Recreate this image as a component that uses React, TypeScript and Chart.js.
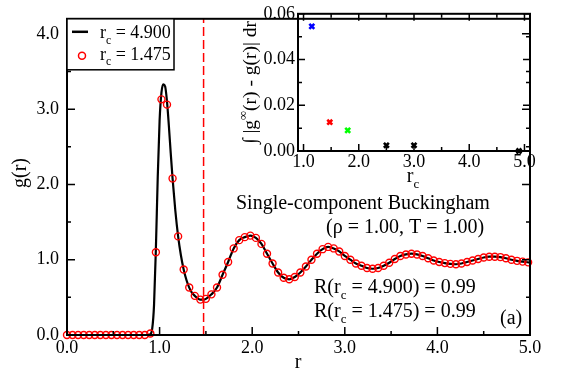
import React, { useEffect, useRef } from "react";
import { Chart, registerables } from "chart.js";

Chart.register(...registerables);

// ---------- data ----------
const circleR = [
  0.0, 0.06, 0.12, 0.18, 0.24, 0.3, 0.36, 0.42, 0.48, 0.54, 0.6, 0.66, 0.72, 0.78, 0.84,
  0.9, 0.96, 1.02, 1.08, 1.14, 1.2, 1.26, 1.32, 1.38, 1.44, 1.5, 1.56, 1.62, 1.68, 1.74,
  1.8, 1.86, 1.92, 1.98, 2.04, 2.1, 2.16, 2.22, 2.28, 2.34, 2.4, 2.46, 2.52, 2.58, 2.64,
  2.7, 2.76, 2.82, 2.88, 2.94, 3.0, 3.06, 3.12, 3.18, 3.24, 3.3, 3.36, 3.42, 3.48, 3.54,
  3.6, 3.66, 3.72, 3.78, 3.84, 3.9, 3.96, 4.02, 4.08, 4.14, 4.2, 4.26, 4.32, 4.38, 4.44,
  4.5, 4.56, 4.62, 4.68, 4.74, 4.8, 4.86, 4.92, 4.98,
];
const circleG = [
  0, 0, 0, 0, 0, 0, 0, 0, 0, 0, 0, 0, 0, 0, 0,
  0.02, 1.1, 3.13, 3.06, 2.08, 1.31, 0.87, 0.63, 0.52, 0.47, 0.48, 0.54, 0.63, 0.8, 0.97,
  1.15, 1.26, 1.3, 1.32, 1.29, 1.21, 1.08, 0.95, 0.83, 0.76, 0.74, 0.77, 0.83, 0.91, 1.0,
  1.08, 1.14, 1.17, 1.15, 1.11, 1.05, 1.0, 0.95, 0.92, 0.89, 0.88, 0.89, 0.92, 0.96, 1.01,
  1.05, 1.07, 1.08, 1.07, 1.05, 1.02, 0.99, 0.97, 0.955, 0.945, 0.94, 0.95, 0.97, 0.99, 1.01,
  1.03, 1.04, 1.04, 1.035, 1.02, 1.0, 0.985, 0.975, 0.965,
];
const lineR = [
  0.0, 0.84, 0.88, 0.9, 0.92, 0.94, 0.96, 0.98, 1.0, 1.02, 1.04, 1.06, 1.08, 1.1, 1.12,
  1.14, 1.17, 1.2, 1.23, 1.26, 1.29, 1.32, 1.35, 1.38, 1.41, 1.44, 1.47, 1.5, 1.56, 1.62,
  1.68, 1.74, 1.8, 1.86, 1.92, 1.98, 2.04, 2.1, 2.16, 2.22, 2.28, 2.34, 2.4, 2.46, 2.52,
  2.58, 2.64, 2.7, 2.76, 2.82, 2.88, 2.94, 3.0, 3.06, 3.12, 3.18, 3.24, 3.3, 3.36, 3.42,
  3.48, 3.54, 3.6, 3.66, 3.72, 3.78, 3.84, 3.9, 3.96, 4.02, 4.08, 4.14, 4.2, 4.26, 4.32,
  4.38, 4.44, 4.5, 4.56, 4.62, 4.68, 4.74, 4.8, 4.86, 4.92, 5.0,
];
const lineG = [
  0, 0, 0, 0.01, 0.08, 0.4, 1.15, 2.1, 2.85, 3.22, 3.33, 3.3, 3.1, 2.78, 2.42,
  2.08, 1.65, 1.31, 1.06, 0.87, 0.73, 0.63, 0.56, 0.52, 0.49, 0.47, 0.47, 0.48, 0.54, 0.63,
  0.8, 0.97, 1.15, 1.26, 1.3, 1.32, 1.29, 1.21, 1.08, 0.95, 0.83, 0.76, 0.74, 0.77, 0.83,
  0.91, 1.0, 1.08, 1.14, 1.17, 1.15, 1.11, 1.05, 1.0, 0.95, 0.92, 0.89, 0.88, 0.89, 0.92,
  0.96, 1.01, 1.05, 1.07, 1.08, 1.07, 1.05, 1.02, 0.99, 0.97, 0.955, 0.945, 0.94, 0.95, 0.97,
  0.99, 1.01, 1.03, 1.04, 1.04, 1.035, 1.02, 1.0, 0.985, 0.975, 0.962,
];
const cutoffR = 1.475;
const mainXTicks = [0, 1, 2, 3, 4, 5];
const mainXMinor = [0.5, 1.5, 2.5, 3.5, 4.5];
const mainYTicks = [0, 1, 2, 3, 4];
const mainYMinor = [0.5, 1.5, 2.5, 3.5];

const insetRc = [1.15, 1.475, 1.8, 2.5, 3.0, 4.9];
const insetDev = [0.0545, 0.0126, 0.009, 0.0025, 0.0025, 0.0];
const insetColors = ["#0000ff", "#ff0000", "#00ff00", "#000000", "#000000", "#000000"];
const insetXTicks = [1, 2, 3, 4, 5];
const insetXMinor = [1.5, 2.5, 3.5, 4.5];
const insetYTicks = [0, 0.02, 0.04, 0.06];
const insetYMinor = [0.01, 0.03, 0.05];

const FONT = "'Liberation Serif', 'Times New Roman', serif";

type Seg = { t: string; s?: "sub" | "sup" };

function richWidth(ctx: CanvasRenderingContext2D, segs: Seg[], size: number) {
  let w = 0;
  for (const sg of segs) {
    ctx.font = `${sg.s ? size * 0.65 : size}px ${FONT}`;
    w += ctx.measureText(sg.t).width;
  }
  return w;
}

function drawRich(
  ctx: CanvasRenderingContext2D,
  segs: Seg[],
  x: number,
  y: number,
  size: number,
  align: "left" | "center" = "left"
) {
  const w = richWidth(ctx, segs, size);
  let cx = align === "center" ? x - w / 2 : x;
  ctx.textBaseline = "alphabetic";
  ctx.textAlign = "left";
  ctx.fillStyle = "#000";
  for (const sg of segs) {
    const sz = sg.s ? size * 0.65 : size;
    ctx.font = `${sz}px ${FONT}`;
    const dy = sg.s === "sub" ? size * 0.3 : sg.s === "sup" ? -size * 0.45 : 0;
    ctx.fillText(sg.t, cx, y + dy);
    cx += ctx.measureText(sg.t).width;
  }
}

function drawTicks(
  ctx: CanvasRenderingContext2D,
  chart: any,
  xMaj: number[],
  xMin: number[],
  yMaj: number[],
  yMin: number[],
  sides: { top: boolean; bottom: boolean; left: boolean; right: boolean },
  majLen: number,
  minLen: number
) {
  const { left, right, top, bottom } = chart.chartArea;
  const xs = chart.scales.x;
  const ys = chart.scales.y;
  ctx.save();
  ctx.strokeStyle = "#000";
  ctx.lineWidth = 1.5;
  ctx.beginPath();
  const xt = (v: number, len: number) => {
    const px = xs.getPixelForValue(v);
    if (sides.bottom) {
      ctx.moveTo(px, bottom);
      ctx.lineTo(px, bottom - len);
    }
    if (sides.top) {
      ctx.moveTo(px, top);
      ctx.lineTo(px, top + len);
    }
  };
  const yt = (v: number, len: number) => {
    const py = ys.getPixelForValue(v);
    if (sides.left) {
      ctx.moveTo(left, py);
      ctx.lineTo(left + len, py);
    }
    if (sides.right) {
      ctx.moveTo(right, py);
      ctx.lineTo(right - len, py);
    }
  };
  xMaj.forEach((v) => xt(v, majLen));
  xMin.forEach((v) => xt(v, minLen));
  yMaj.forEach((v) => yt(v, majLen));
  yMin.forEach((v) => yt(v, minLen));
  ctx.stroke();
  ctx.lineWidth = 2;
  ctx.strokeRect(left, top, right - left, bottom - top);
  ctx.restore();
}

const mainDecor = {
  id: "mainDecor",
  afterDraw(chart: any) {
    const ctx: CanvasRenderingContext2D = chart.ctx;
    drawTicks(ctx, chart, mainXTicks, mainXMinor, mainYTicks, mainYMinor,
      { top: false, bottom: true, left: true, right: true }, 8, 4);
    const { left, top } = chart.chartArea;
    ctx.save();
    // legend
    ctx.fillStyle = "#fff";
    ctx.fillRect(left, top, 107, 51);
    ctx.strokeStyle = "#000";
    ctx.lineWidth = 1.5;
    ctx.strokeRect(left, top, 107, 51);
    ctx.lineWidth = 2.5;
    ctx.beginPath();
    ctx.moveTo(left + 5, top + 13);
    ctx.lineTo(left + 21, top + 13);
    ctx.stroke();
    ctx.strokeStyle = "#ff0000";
    ctx.lineWidth = 1.5;
    ctx.beginPath();
    ctx.arc(left + 15, top + 37, 3.5, 0, Math.PI * 2);
    ctx.stroke();
    drawRich(ctx, [{ t: "r" }, { t: "c", s: "sub" }, { t: " = 4.900" }], left + 33, top + 19.5, 18);
    drawRich(ctx, [{ t: "r" }, { t: "c", s: "sub" }, { t: " = 1.475" }], left + 33, top + 41, 18);
    // annotations
    drawRich(ctx, [{ t: "Single-component Buckingham" }], 236, 209, 20);
    drawRich(ctx, [{ t: "(ρ = 1.00, T = 1.00)" }], 326, 233, 20);
    drawRich(ctx, [{ t: "R(r" }, { t: "c", s: "sub" }, { t: " = 4.900) = 0.99" }], 314, 292.5, 20);
    drawRich(ctx, [{ t: "R(r" }, { t: "c", s: "sub" }, { t: " = 1.475) = 0.99" }], 314, 317, 20);
    drawRich(ctx, [{ t: "(a)" }], 500, 324, 20);
    // axis titles
    drawRich(ctx, [{ t: "r" }], 298, 368, 20, "center");
    ctx.translate(26, 173);
    ctx.rotate(-Math.PI / 2);
    drawRich(ctx, [{ t: "g(r)" }], 0, 0, 20, "center");
    ctx.restore();
  },
};

const insetDecor = {
  id: "insetDecor",
  afterDraw(chart: any) {
    const ctx: CanvasRenderingContext2D = chart.ctx;
    drawTicks(ctx, chart, insetXTicks, insetXMinor, insetYTicks, insetYMinor,
      { top: true, bottom: true, left: true, right: true }, 7, 4);
    const { left, right, top, bottom } = chart.chartArea;
    ctx.save();
    drawRich(ctx, [{ t: "r" }, { t: "c", s: "sub" }], (left + right) / 2 - 1, 181.5, 20, "center");
    ctx.translate(26, (top + bottom) / 2);
    ctx.rotate(-Math.PI / 2);
    drawRich(
      ctx,
      [{ t: "∫ |g" }, { t: "∞", s: "sup" }, { t: "(r) - g(r)| dr" }],
      0, 0, 19.5, "center"
    );
    ctx.restore();
  },
};

const tickFont = { family: FONT, size: 18 };

export default function App() {
  const mainRef = useRef<HTMLCanvasElement>(null);
  const insetRef = useRef<HTMLCanvasElement>(null);

  useEffect(() => {
    document.body.style.margin = "0";
    const main = new Chart(mainRef.current!, {
      type: "scatter",
      data: {
        datasets: [
          {
            label: "rc = 1.475",
            data: circleR.map((r, i) => ({ x: r, y: circleG[i] })),
            showLine: false,
            pointStyle: "circle",
            pointRadius: 3.5,
            pointBorderWidth: 1.4,
            pointBorderColor: "#ff0000",
            pointBackgroundColor: "rgba(0,0,0,0)",
            clip: false,
            order: 0,
          },
          {
            label: "rc = 4.900",
            data: lineR.map((r, i) => ({ x: r, y: lineG[i] })),
            showLine: true,
            borderColor: "#000",
            borderWidth: 2.2,
            pointRadius: 0,
            cubicInterpolationMode: "monotone",
            order: 1,
          },
          {
            label: "cutoff",
            data: [
              { x: cutoffR, y: 0 },
              { x: cutoffR, y: 4.2 },
            ],
            showLine: true,
            borderColor: "#ff0000",
            borderWidth: 1.5,
            borderDash: [9, 4],
            pointRadius: 0,
            order: 2,
          },
        ],
      } as any,
      options: {
        animation: false,
        responsive: false,
        layout: { padding: { top: 12, right: 36, left: 0, bottom: 0 } },
        plugins: { legend: { display: false }, tooltip: { enabled: false } },
        scales: {
          x: {
            type: "linear",
            min: 0,
            max: 5,
            afterFit: (s: any) => {
              s.height = 35;
            },
            afterBuildTicks: (s: any) => {
              s.ticks = mainXTicks.map((v) => ({ value: v }));
            },
            grid: { display: false, drawTicks: false },
            border: { display: false },
            ticks: {
              callback: (v: any) => Number(v).toFixed(1),
              font: tickFont,
              color: "#000",
              padding: 2,
              maxRotation: 0,
              autoSkip: false,
            },
          },
          y: {
            type: "linear",
            min: 0,
            max: 4.2,
            afterFit: (s: any) => {
              s.width = 67;
            },
            afterBuildTicks: (s: any) => {
              s.ticks = mainYTicks.map((v) => ({ value: v }));
            },
            grid: { display: false, drawTicks: false },
            border: { display: false },
            ticks: {
              callback: (v: any) => Number(v).toFixed(1),
              font: tickFont,
              color: "#000",
              padding: 8,
              autoSkip: false,
            },
          },
        },
      } as any,
      plugins: [mainDecor],
    });

    const inset = new Chart(insetRef.current!, {
      type: "scatter",
      data: {
        datasets: [
          {
            label: "deviation",
            data: insetRc.map((r, i) => ({ x: r, y: insetDev[i] })),
            showLine: false,
            pointStyle: "crossRot",
            pointRadius: 3.5,
            pointBorderWidth: 2.6,
            pointBorderColor: insetColors,
            pointBackgroundColor: insetColors,
            clip: false,
          },
        ],
      } as any,
      options: {
        animation: false,
        responsive: false,
        layout: { padding: { top: 12, right: 10, left: 0, bottom: 0 } },
        plugins: { legend: { display: false }, tooltip: { enabled: false } },
        scales: {
          x: {
            type: "linear",
            min: 0.9,
            max: 5.1,
            afterFit: (s: any) => {
              s.height = 44;
            },
            afterBuildTicks: (s: any) => {
              s.ticks = insetXTicks.map((v) => ({ value: v }));
            },
            grid: { display: false, drawTicks: false },
            border: { display: false },
            ticks: {
              callback: (v: any) => Number(v).toFixed(1),
              font: tickFont,
              color: "#000",
              padding: 0,
              maxRotation: 0,
              autoSkip: false,
            },
          },
          y: {
            type: "linear",
            min: 0,
            max: 0.06,
            afterFit: (s: any) => {
              s.width = 68;
            },
            afterBuildTicks: (s: any) => {
              s.ticks = insetYTicks.map((v) => ({ value: v }));
            },
            grid: { display: false, drawTicks: false },
            border: { display: false },
            ticks: {
              callback: (v: any) => Number(v).toFixed(2),
              font: tickFont,
              color: "#000",
              padding: 3,
              autoSkip: false,
            },
          },
        },
      } as any,
      plugins: [insetDecor],
    });

    return () => {
      main.destroy();
      inset.destroy();
    };
  }, []);

  return (
    <div style={{ position: "relative", width: 566, height: 370, background: "#fff" }}>
      <canvas
        ref={mainRef}
        width={566}
        height={370}
        style={{ position: "absolute", left: 0, top: 0, width: 566, height: 370 }}
      />
      <canvas
        ref={insetRef}
        width={310}
        height={195}
        style={{ position: "absolute", left: 230, top: 0, width: 310, height: 195 }}
      />
    </div>
  );
}
